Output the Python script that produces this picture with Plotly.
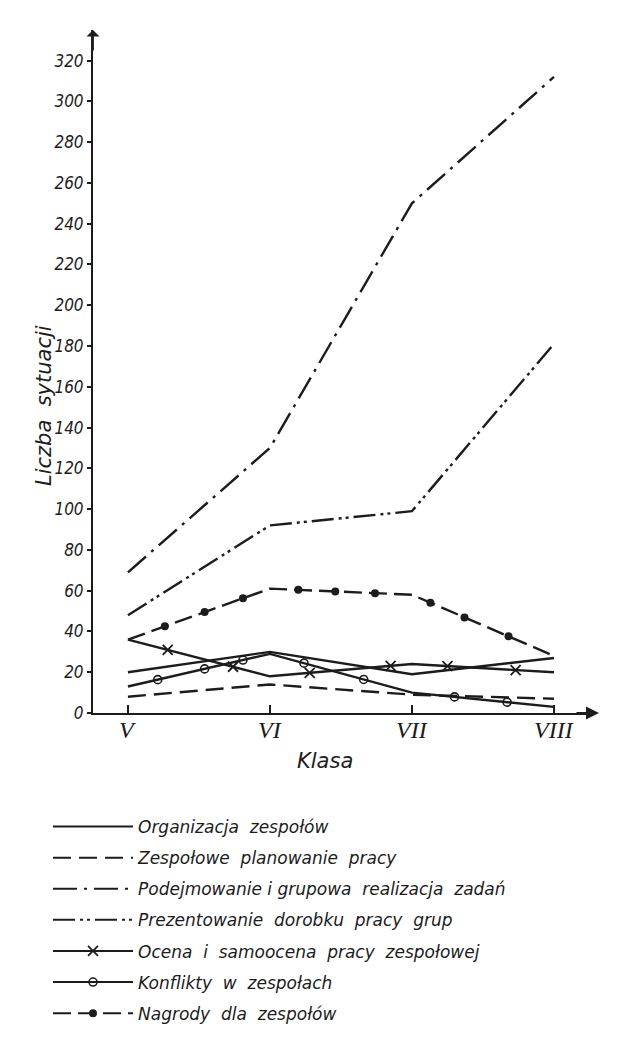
import numpy as np
import plotly.graph_objects as go

# ---------------- data ----------------
classes = ["V", "VI", "VII", "VIII"]
y_tick_values = list(range(0, 321, 20))

organizacja = [20, 30, 19, 27]
planowanie = [8, 14, 9, 7]
podejmowanie = [69, 130, 250, 312]
prezentowanie = [48, 92, 99, 181]
ocena = [36, 18, 24, 20]
konflikty = [13, 29, 10, 3]
nagrody = [36, 61, 58, 28]

names = [
    "Organizacja  zespołów",
    "Zespołowe  planowanie  pracy",
    "Podejmowanie i grupowa  realizacja  zadań",
    "Prezentowanie  dorobku  pracy  grup",
    "Ocena  i  samoocena  pracy  zespołowej",
    "Konflikty  w  zespołach",
    "Nagrody  dla  zespołów",
]

# ---------------- style ----------------
INK = "#1c1c1c"
LW = 2.4
x_pos = np.arange(len(classes))

# fractional positions (in class units) where the line-style symbols sit
ocena_mark_at = [0.28, 0.74, 1.28, 1.85, 2.25, 2.73]
konflikty_mark_at = [0.21, 0.54, 0.81, 1.24, 1.66, 2.3, 2.67]
nagrody_mark_at = [0.26, 0.54, 0.81, 1.2, 1.46, 1.74, 2.13, 2.37, 2.68]

series = [
    (names[0], organizacja, "solid", None, None),
    (names[1], planowanie, "18px,8px", None, None),
    (names[2], podejmowanie, "24px,7px,3px,7px", None, None),
    (names[3], prezentowanie, "22px,5px,3px,4px,3px,5px", None, None),
    (names[4], ocena, "solid", dict(symbol="x-thin-open", size=10, color=INK, line=dict(width=1.8, color=INK)), ocena_mark_at),
    (names[5], konflikty, "solid", dict(symbol="circle-open", size=8, color=INK, line=dict(width=1.6, color=INK)), konflikty_mark_at),
    (names[6], nagrody, "18px,7px", dict(symbol="circle", size=8, color=INK), nagrody_mark_at),
]

fig = go.Figure()

for name, vals, dash, marker, mark_at in series:
    fig.add_trace(go.Scatter(
        x=x_pos, y=vals, mode="lines",
        line=dict(color=INK, width=LW, dash=dash),
        showlegend=False, hoverinfo="skip",
    ))
    if marker is not None:
        fig.add_trace(go.Scatter(
            x=mark_at, y=np.interp(mark_at, x_pos, vals), mode="markers",
            marker=marker, showlegend=False, hoverinfo="skip",
        ))

# legend entries
for i, (name, vals, dash, marker, mark_at) in enumerate(series):
    fig.add_trace(go.Scatter(
        x=[None], y=[None],
        mode="lines+markers" if marker is not None else "lines",
        line=dict(color=INK, width=2, dash=dash),
        marker=marker if marker is not None else None,
        name=name, legendgroup=f"g{i}",
    ))

L, R, T, B = 85, 45, 22, 353
PW, PH = 630 - L - R, 1058 - T - B


def px_x(p):
    return (p - L) / PW


def px_y(p):
    return (705 - p) / PH


fig.update_layout(
    width=630, height=1058,
    margin=dict(l=L, r=R, t=T, b=B),
    paper_bgcolor="white", plot_bgcolor="white",
    font=dict(family="DejaVu Sans", style="italic", color=INK, size=17),
    showlegend=True,
    legend=dict(
        x=px_x(40), xanchor="left",
        y=px_y(801), yanchor="top",
        font=dict(family="DejaVu Sans", style="italic", size=17, color=INK),
        itemwidth=80, tracegroupgap=6,
        bgcolor="rgba(0,0,0,0)", borderwidth=0,
    ),
)

fig.update_xaxes(
    range=[-0.246, 3.275],
    tickvals=list(x_pos), ticktext=classes, showticklabels=False,
    showgrid=False, zeroline=False,
    showline=True, linecolor=INK, linewidth=2,
    ticks="inside", ticklen=8, tickwidth=1.5, tickcolor=INK,
)
fig.update_yaxes(
    range=[0, 335],
    tickvals=y_tick_values,
    showgrid=False, zeroline=False,
    showline=True, linecolor=INK, linewidth=2,
    ticks="outside", ticklen=4, tickwidth=1.5, tickcolor=INK,
    tickfont=dict(family="DejaVu Sans Condensed", style="italic", size=17, color=INK),
    ticklabelstandoff=0,
)

# class labels under the axis
for xp, lab in zip(x_pos, classes):
    fig.add_annotation(text=lab, x=xp, xref="x", y=px_y(722), yref="paper",
                       xanchor="center", yanchor="middle", showarrow=False,
                       font=dict(family="Liberation Serif", style="italic", size=24, color=INK))

# axis arrows
fig.add_annotation(x=1.012, xref="paper", y=0, yref="y", ax=-24, ay=0,
                   showarrow=True, arrowhead=2, arrowsize=1.3, arrowwidth=2, arrowcolor=INK, text="")
fig.add_annotation(x=0, xref="paper", y=1.0, yref="paper", ax=0, ay=22,
                   showarrow=True, arrowhead=1, arrowsize=1.2, arrowwidth=1.8, arrowcolor=INK, text="")

# axis titles
fig.add_annotation(text="Klasa", x=px_x(317), xref="paper", y=px_y(753), yref="paper",
                   xanchor="center", yanchor="middle", showarrow=False,
                   font=dict(family="DejaVu Sans", style="italic", size=21, color=INK))
fig.add_annotation(text="Liczba  sytuacji", x=px_x(36), xref="paper", y=px_y(398), yref="paper",
                   xanchor="center", yanchor="middle", showarrow=False, textangle=-90,
                   font=dict(family="DejaVu Sans", style="italic", size=21, color=INK))

fig.write_html("out.html")
